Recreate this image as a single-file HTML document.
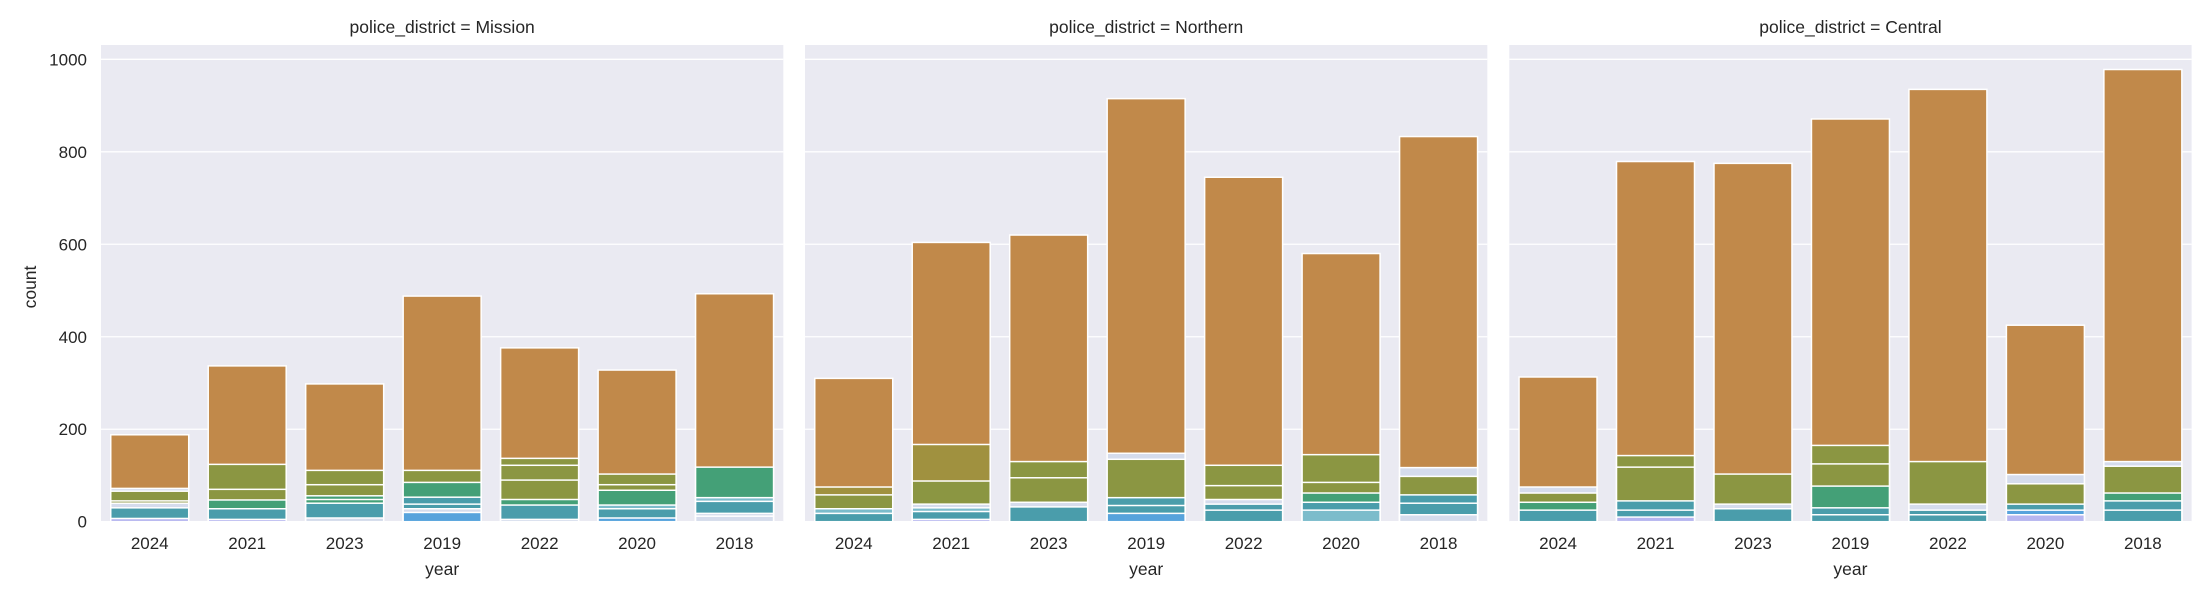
<!DOCTYPE html>
<html><head><meta charset="utf-8">
<style>
html,body{margin:0;padding:0;background:#fff;}
svg{display:block;font-family:"Liberation Sans",Arial,sans-serif;}
</style></head>
<body>
<svg id="chart" width="2211" height="600" viewBox="0 0 2211 600" xmlns="http://www.w3.org/2000/svg"></svg>
<script>
const districts = ["Mission","Northern","Central"];
const years = ["2024","2021","2023","2019","2022","2020","2018"];
const yTicks = [0,200,400,600,800,1000];
const hueColors = ["#c1894a","#a0913f","#8b9642","#44a077","#4a9dab","#7cbccb","#57a3dc","#b7b6f0","#d5dcec"];
// per district, per year: overlapping layer values (count) and hue index
const missionValues = [
 [188,72,66,45,40,30,7],[337,124,70,47,28,5],[298,111,80,56,48,40,8],
 [488,111,85,53,38,28,20],[376,137,122,90,48,36,5],[328,103,80,68,36,28,8],[493,118,52,44,18,12]];
const missionHues = [
 [0,8,2,2,8,4,7],[0,2,2,3,4,7],[0,2,2,3,3,4,8],
 [0,2,3,4,4,8,6],[0,2,2,2,3,4,8],[0,2,2,3,5,4,6],[0,3,5,4,8,8]];
const northernValues = [
 [310,75,58,28,18],[604,167,88,38,30,22,5],[620,130,95,42,32],
 [915,148,135,52,35,18],[745,122,78,48,38,25],[580,145,85,62,42,25],[833,117,98,58,40,15]];
const northernHues = [
 [0,1,2,5,4],[0,1,2,8,5,4,7],[0,2,2,8,4],
 [0,8,2,4,4,6],[0,2,2,8,4,4],[0,2,2,3,4,5],[0,8,2,4,4,8]];
const centralValues = [
 [313,75,62,42,25],[779,143,118,45,25,10],[775,103,38,28],
 [871,165,125,77,30,15],[935,130,38,25,15],[425,102,82,38,25,15],[978,130,120,62,45,25]];
const centralHues = [
 [0,8,2,3,4],[0,2,2,4,4,7],[0,2,8,4],
 [0,2,2,3,4,4],[0,2,8,4,4],[0,8,2,4,6,7],[0,8,2,3,4,4]];
const allValues = [missionValues, northernValues, centralValues];
const allHues = [missionHues, northernHues, centralHues];

const NS = "http://www.w3.org/2000/svg";
const svg = document.getElementById("chart");
const panelLefts = [101, 805, 1509.3];
const panelW = 682.3, plotTop = 45, plotBottom = 521.7, yMax = 1031;
function yScale(v){ return plotBottom - v/yMax*(plotBottom-plotTop); }
function xBand(i, left){ return left + panelW/years.length*i; }
const bandW = panelW/years.length;
function mk(tag, attrs, parent){
  const el = document.createElementNS(NS, tag);
  for (const k in attrs) el.setAttribute(k, attrs[k]);
  (parent||svg).appendChild(el);
  return el;
}
districts.forEach((d, p) => {
  const left = panelLefts[p];
  const g = mk("g", {});
  
  
  const bg = mk("rect", {x:left, y:plotTop, width:panelW, height:plotBottom-plotTop, fill:"#eaeaf2"}, g);
  
  
  yTicks.forEach(t => {
    const gl = mk("line", {x1:left, x2:left+panelW, y1:yScale(t), y2:yScale(t), stroke:"#fff", "stroke-width":1.3}, g);
    
    
    if (p === 0) {
      const tl = mk("text", {x:left-14, y:yScale(t)+6, "text-anchor":"end", "font-size":"17", fill:"#262626"}, g);
      tl.textContent = t;
      
      
    }
  });
  years.forEach((yr, i) => {
    const x = xBand(i, left) + bandW*0.1;
    const vals = allValues[p][i], hues = allHues[p][i];
    vals.forEach((v, k) => {
      const r = mk("rect", {x:x, y:yScale(v), width:bandW*0.8, height:yScale(0)-yScale(v), fill:hueColors[hues[k]], stroke:"#fff", "stroke-width":1.5}, g);
      
      
    });
    const xl = mk("text", {x:xBand(i,left)+bandW/2, y:549, "text-anchor":"middle", "font-size":"17", fill:"#262626"}, g);
    xl.textContent = yr;
    
    
  });
  const title = mk("text", {x:left+panelW/2, y:33, "text-anchor":"middle", "font-size":"17.5", fill:"#262626"}, g);
  title.textContent = "police_district = " + d;
  
  
  const xt = mk("text", {x:left+panelW/2, y:575, "text-anchor":"middle", "font-size":"17.5", fill:"#262626"}, g);
  xt.textContent = "year";
  
  
});
const yt = mk("text", {x:0, y:0, "text-anchor":"middle", "font-size":"17.5", fill:"#262626", transform:"translate(36,287) rotate(-90)"});
yt.textContent = "count";


</script>
</body></html>
